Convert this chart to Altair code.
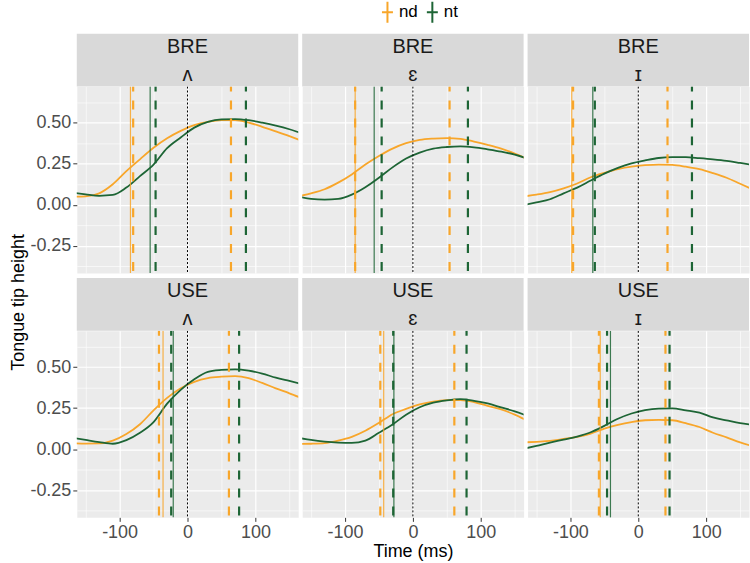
import altair as alt
import pandas as pd

# ---------------- data ----------------
time_ms = [-165, -150, -130, -110, -90, -70, -50, -30, -10, 10, 30, 50, 70, 90, 110, 130, 150, 165]

dialect = ["BRE", "BRE", "BRE", "USE", "USE", "USE"]
vowel = ["ʌ", "ɛ", "ɪ", "ʌ", "ɛ", "ɪ"]
consonant = ["nd", "nt"]

bre_uh_nd = [0.05, 0.052, 0.07, 0.125, 0.205, 0.277, 0.347, 0.405, 0.45, 0.485, 0.505, 0.515, 0.515, 0.50, 0.475, 0.447, 0.418, 0.395]
bre_uh_nt = [0.072, 0.064, 0.055, 0.06, 0.105, 0.175, 0.245, 0.345, 0.41, 0.47, 0.505, 0.52, 0.522, 0.515, 0.50, 0.482, 0.46, 0.44]
bre_eh_nd = [0.055, 0.07, 0.095, 0.135, 0.185, 0.245, 0.297, 0.342, 0.375, 0.395, 0.403, 0.406, 0.402, 0.385, 0.365, 0.342, 0.312, 0.285]
bre_eh_nt = [0.047, 0.036, 0.032, 0.036, 0.062, 0.107, 0.165, 0.228, 0.282, 0.318, 0.342, 0.352, 0.356, 0.35, 0.338, 0.324, 0.305, 0.286]
bre_ih_nd = [0.053, 0.062, 0.077, 0.10, 0.13, 0.168, 0.195, 0.218, 0.233, 0.241, 0.245, 0.243, 0.232, 0.217, 0.193, 0.165, 0.128, 0.10]
bre_ih_nt = [0.002, 0.015, 0.034, 0.07, 0.105, 0.148, 0.19, 0.225, 0.252, 0.27, 0.285, 0.29, 0.29, 0.284, 0.277, 0.268, 0.255, 0.245]
use_uh_nd = [0.036, 0.034, 0.035, 0.052, 0.092, 0.152, 0.236, 0.312, 0.371, 0.41, 0.433, 0.441, 0.444, 0.432, 0.403, 0.37, 0.34, 0.316]
use_uh_nt = [0.066, 0.056, 0.043, 0.033, 0.055, 0.10, 0.165, 0.277, 0.361, 0.425, 0.47, 0.482, 0.486, 0.478, 0.46, 0.435, 0.415, 0.40]
use_eh_nd = [0.032, 0.033, 0.037, 0.052, 0.075, 0.112, 0.16, 0.213, 0.245, 0.272, 0.29, 0.298, 0.299, 0.287, 0.264, 0.242, 0.21, 0.18]
use_eh_nt = [0.066, 0.056, 0.046, 0.04, 0.038, 0.052, 0.10, 0.15, 0.21, 0.255, 0.283, 0.297, 0.304, 0.294, 0.278, 0.254, 0.23, 0.208]
use_ih_nd = [0.042, 0.045, 0.05, 0.062, 0.075, 0.095, 0.125, 0.148, 0.165, 0.176, 0.178, 0.176, 0.158, 0.135, 0.10, 0.072, 0.041, 0.022]
use_ih_nt = [0.006, 0.02, 0.04, 0.058, 0.077, 0.103, 0.142, 0.185, 0.217, 0.238, 0.247, 0.248, 0.236, 0.222, 0.193, 0.175, 0.158, 0.15]

nd_series = [bre_uh_nd, bre_eh_nd, bre_ih_nd, use_uh_nd, use_eh_nd, use_ih_nd]
nt_series = [bre_uh_nt, bre_eh_nt, bre_ih_nt, use_uh_nt, use_eh_nt, use_ih_nt]

# vertical markers (ms), one per panel
solid_nd = [-84, -85, -98, -36, -43, -56]
solid_nt = [-55, -57, -67, -21, -28, -41]
dash_on_nd = [-80, -85, -96, -42, -48, -58]
dash_on_nt = [-47, -46, -64, -24, -29, -46]
dash_off_nd = [64, 54, 43, 61, 61, 40]
dash_off_nt = [86, 81, 79, 76, 79, 46]
zero_ms = [0]

x_grid_vals = [-150, -100, -50, 0, 50, 100, 150]
y_grid_vals = [-0.375, -0.25, -0.125, 0, 0.125, 0.25, 0.375, 0.5, 0.625]

# ---------------- style ----------------
W, H = 222, 187
ORANGE = "#F8A62A"
GREEN = "#1D6535"
FONT = "Liberation Sans"

color_scale = alt.Scale(domain=consonant, range=[ORANGE, GREEN])
x_scale = alt.Scale(domain=[-163, 163], nice=False, zero=False)
y_scale = alt.Scale(domain=[-0.415, 0.72], nice=False, zero=False)

major_x = "abs(datum.value / 100 - round(datum.value / 100)) < 0.001"
major_y = "abs(datum.value * 4 - round(datum.value * 4)) < 0.001"


def make_axis(values, major, show, title, fmt, title_pad, title_y=None):
    kw = dict(
        values=values, grid=True, domain=False, gridColor="white",
        gridWidth={"condition": {"test": major, "value": 1.2}, "value": 0.6},
        title=title,
    )
    if show:
        kw.update(
            labels=True, ticks=True, tickSize=4, tickWidth=1,
            tickColor={"condition": {"test": major, "value": "#333333"}, "value": "transparent"},
            labelExpr="(" + major + ") ? ((datum.value < 0 ? '-' : '') + format(abs(datum.value), '" + fmt + "')) : ''",
            labelFontSize=18, labelColor="#4D4D4D", labelPadding=2, labelOverlap=False,
            labelFlush=False, labelFont=FONT,
        )
    else:
        kw.update(labels=False, ticks=False)
    if title:
        kw.update(titleFontSize=18, titleFontWeight="normal", titleColor="black",
                  titlePadding=title_pad, titleFont=FONT)
        if title_y is not None:
            kw.update(titleY=title_y)
    return alt.Axis(**kw)


def panel(p):
    row, col = divmod(p, 3)
    curves = pd.DataFrame({
        "t": time_ms * 2,
        "h": nd_series[p] + nt_series[p],
        "cons": ["nd"] * len(time_ms) + ["nt"] * len(time_ms),
    })
    solid = pd.DataFrame({"t": [solid_nd[p], solid_nt[p]], "cons": consonant})
    dashed = pd.DataFrame({
        "t": [dash_on_nd[p], dash_off_nd[p], dash_on_nt[p], dash_off_nt[p]],
        "cons": ["nd", "nd", "nt", "nt"],
    })
    zero = pd.DataFrame({"t": zero_ms})
    strip = pd.DataFrame({"dialect": [dialect[p]], "vowel": [vowel[p]]})

    xa = make_axis(x_grid_vals, major_x, row == 1, "Time (ms)" if (row == 1 and col == 1) else "", "d", 1)
    ya = make_axis(y_grid_vals, major_y, col == 0, "Tongue tip height" if (row == 0 and col == 0) else "",
                   ".2f", 2, title_y=216 if (row == 0 and col == 0) else None)
    X = alt.X("t:Q", scale=x_scale, axis=xa)

    color_legend = alt.Legend(
        title=None, orient="none", legendX=303, legendY=-83, direction="horizontal",
        symbolType="M-1,0L1,0M0,-1.9L0,1.9", symbolSize=121, symbolStrokeWidth=2,
        labelFontSize=17, labelFont=FONT, labelColor="black", columnPadding=5, labelOffset=3,
        padding=0,
    )

    lines = alt.Chart(curves).mark_line(strokeWidth=1.8, interpolate="monotone", clip=True).encode(
        x=X,
        y=alt.Y("h:Q", scale=y_scale, axis=ya),
        color=alt.Color("cons:N", scale=color_scale, legend=color_legend),
    )
    zero_rule = alt.Chart(zero).mark_rule(strokeWidth=1, color="black", strokeDash=[2, 2]).encode(x=X)
    solid_rules = alt.Chart(solid).mark_rule(strokeWidth=1.2, opacity=0.85).encode(
        x=X, color=alt.Color("cons:N", scale=color_scale, legend=None),
    )
    dashed_rules = alt.Chart(dashed).mark_rule(strokeWidth=2.2, strokeDash=[9, 9], strokeDashOffset=4).encode(
        x=X, color=alt.Color("cons:N", scale=color_scale, legend=None),
    )
    strip_bg = alt.Chart(strip).mark_rect(color="#D9D9D9").encode(
        x=alt.value(0), x2=alt.value(W), y=alt.value(-53), y2=alt.value(0),
    )
    strip_top = alt.Chart(strip).mark_text(fontSize=20, font=FONT, color="#1A1A1A").encode(
        x=alt.value(W / 2), y=alt.value(-40), text="dialect:N",
    )
    strip_bot = alt.Chart(strip).mark_text(fontSize=20, font=FONT, color="#1A1A1A").encode(
        x=alt.value(W / 2), y=alt.value(-12), text="vowel:N",
    )
    return alt.layer(lines, zero_rule, solid_rules, dashed_rules, strip_bg, strip_top, strip_bot).properties(
        width=W, height=H
    )


chart = alt.concat(
    *[panel(p) for p in range(6)], columns=3, spacing={"row": 58, "column": 4}, bounds="flush"
).resolve_scale(color="shared").properties(
    padding={"left": 9, "top": 3, "right": 0, "bottom": 0}
).configure(font=FONT).configure_view(fill="#EBEBEB", stroke="transparent")

chart.save("out.html", embed_options={"renderer": "svg", "actions": False})
